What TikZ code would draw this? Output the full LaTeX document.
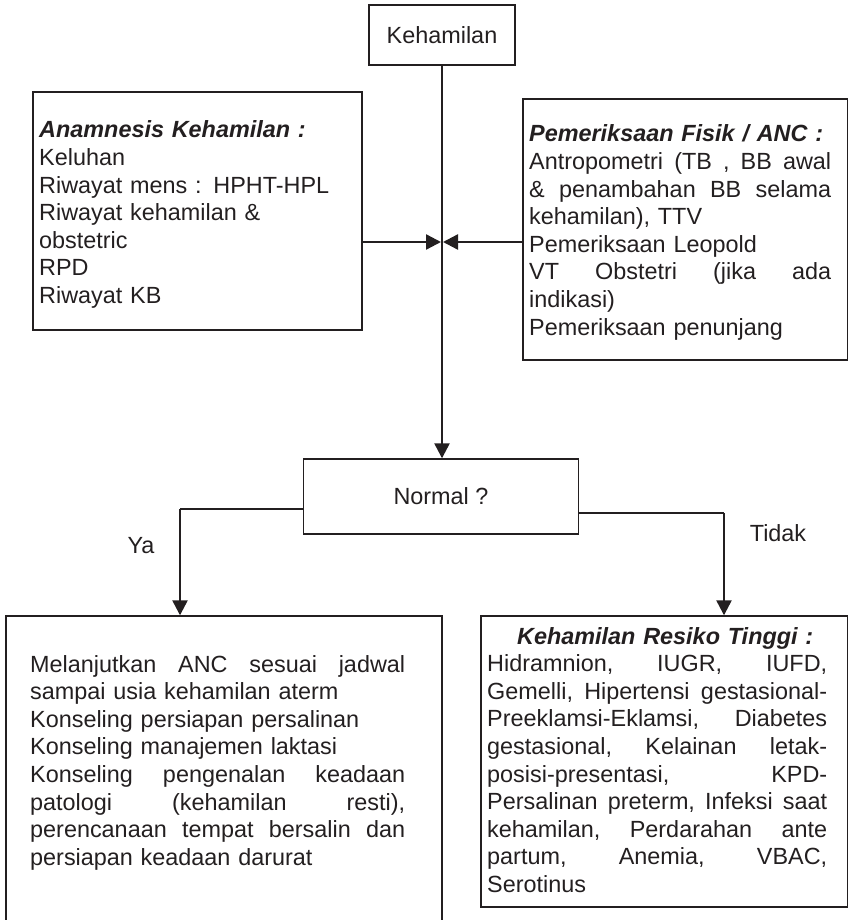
\documentclass[tikz,border=0pt]{standalone}
\usepackage{fontspec}
\setmainfont{Liberation Sans}
\usetikzlibrary{arrows.meta}
\definecolor{ink}{HTML}{231F20}
% a line spread over a given width; words are separated by \hfill
\newcommand\jline[2]{\leavevmode\hbox to #1{#2}}
\newcommand\ttl[1]{{\bfseries\itshape #1}}
\begin{document}
\begin{tikzpicture}[x=1pt,y=-1pt,
  box/.style={draw=ink,line width=1.4pt,inner sep=0pt},
  txt/.style={inner sep=0pt,text=ink,font=\fontsize{23.4}{27.6}\selectfont,align=left,anchor=base west},
  lbl/.style={inner sep=0pt,text=ink,font=\fontsize{23.4}{27.6}\selectfont},
  flow/.style={draw=ink,line width=2.4pt,-{Triangle[length=15pt,width=15pt]}},
  link/.style={draw=ink,line width=1.6pt}]
\useasboundingbox (0,0) rectangle (847,920);

% boxes
\node[box,lbl,minimum width=146pt,minimum height=60pt] (kh) at (442,35) {Kehamilan};
\node[box,minimum width=329pt,minimum height=238pt] (anam) at (197.5,211) {};
\node[box,minimum width=325pt,minimum height=261pt] (fis) at (685.5,229.5) {};
\node[box,lbl,minimum width=275pt,minimum height=75pt] (nm) at (441,496.5) {Normal ?};
\node[box,minimum width=436pt,minimum height=309pt] (lo) at (224,770.5) {};
\node[box,minimum width=367pt,minimum height=291pt] (hr) at (664.5,761.5) {};

% box contents
\node[txt,text width=310pt] (anamt) at (39,138) {%
\ttl{Anamnesis Kehamilan :}\\
Keluhan\\
Riwayat mens : HPHT-HPL\\
Riwayat kehamilan \&\\
obstetric\\
RPD\\
Riwayat KB};

\node[txt,text width=302pt] (fist) at (529,142) {%
\ttl{Pemeriksaan Fisik / ANC :}\\
\jline{302pt}{Antropometri\hfill(TB\hfill,\hfill BB\hfill awal}\\
\jline{302pt}{\&\hfill penambahan\hfill BB\hfill selama}\\
kehamilan), TTV\\
Pemeriksaan Leopold\\
\jline{302pt}{VT\hfill Obstetri\hfill (jika\hfill ada}\\
indikasi)\\
Pemeriksaan penunjang};

\node[txt,text width=375pt] (lot) at (30,672) {%
\jline{375pt}{Melanjutkan\hfill ANC\hfill sesuai\hfill jadwal}\\
sampai usia kehamilan aterm\\
Konseling persiapan persalinan\\
Konseling manajemen laktasi\\
\jline{375pt}{Konseling\hfill pengenalan\hfill keadaan}\\
\jline{375pt}{patologi\hfill (kehamilan\hfill resti),}\\
\jline{375pt}{perencanaan\hfill tempat\hfill bersalin\hfill dan}\\
persiapan keadaan darurat};

\node[txt,text width=340pt] (hrt) at (487,644) {%
\jline{340pt}{\hfill\hspace*{16pt}\ttl{Kehamilan Resiko Tinggi :}\hfill}\\
\jline{340pt}{Hidramnion,\hfill IUGR,\hfill IUFD,}\\
\jline{340pt}{Gemelli,\hfill Hipertensi\hfill gestasional-}\\
\jline{340pt}{Preeklamsi-Eklamsi,\hfill Diabetes}\\
\jline{340pt}{gestasional,\hfill Kelainan\hfill letak-}\\
\jline{340pt}{posisi-presentasi,\hfill KPD-}\\
\jline{340pt}{Persalinan\hfill preterm,\hfill Infeksi\hfill saat}\\
\jline{340pt}{kehamilan,\hfill Perdarahan\hfill ante}\\
\jline{340pt}{partum,\hfill Anemia,\hfill VBAC,}\\
Serotinus};

% branch corners and junction points
\coordinate (jl) at (441,242);
\coordinate (jr) at (443,242);
\coordinate (ya) at (180,509);
\coordinate (td) at (724,513);

% connectors
\draw[flow] (kh.south) -- (kh.south |- nm.north);
\draw[flow] (anam.east |- jl) -- (jl);
\draw[flow] (fis.west |- jr) -- (jr);
\draw[link] (nm.west |- ya) -- (ya);
\draw[flow] (ya) -- (ya |- lo.north);
\draw[link] (nm.east |- td) -- (td);
\draw[flow] (td) -- (td |- hr.north);

% branch labels
\node[lbl] (yalbl) at (141,546) {Ya};
\node[lbl] (tdlbl) at (778,533) {Tidak};
\end{tikzpicture}
\end{document}
